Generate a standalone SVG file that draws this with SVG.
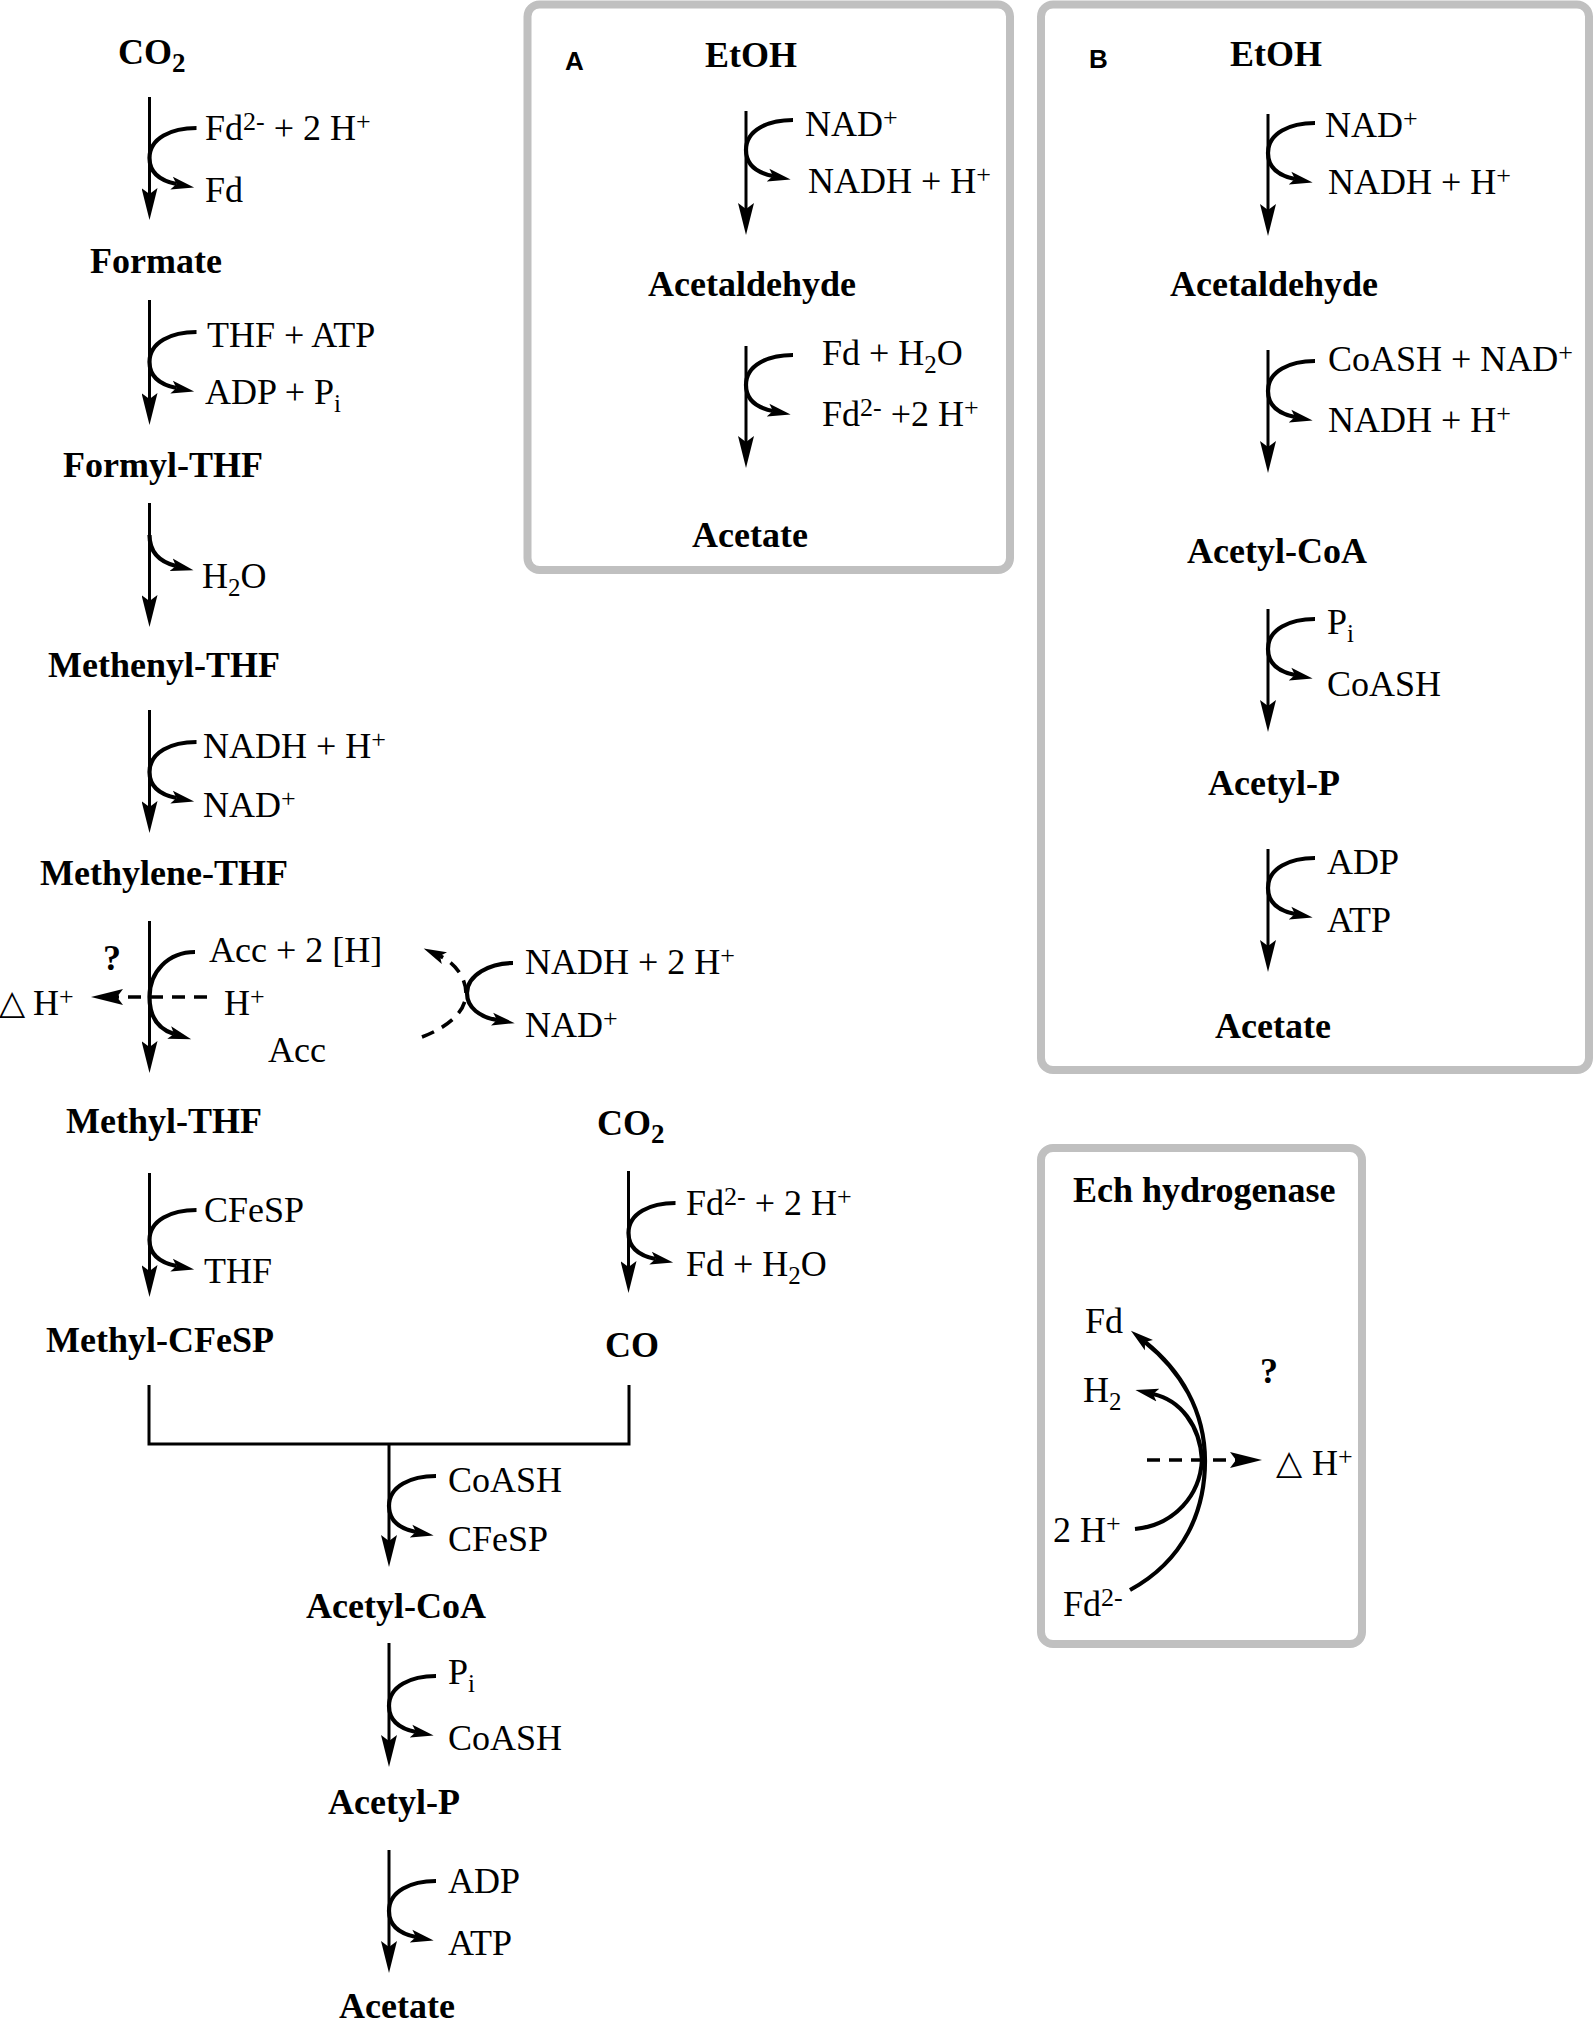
<svg xmlns="http://www.w3.org/2000/svg" xmlns:xlink="http://www.w3.org/1999/xlink" width="1595" height="2031" viewBox="0 0 1595 2031">
<style>
text{font-family:"Liberation Serif","Times New Roman",serif;fill:#000}
.b{font-weight:bold;font-size:36px}
.r{font-size:36px}
.sup{font-size:26px;baseline-shift:10px}
.sub{font-size:25px;baseline-shift:-8px}
.bsub{font-size:27px;baseline-shift:-8px}
.lbl{font-family:"Liberation Sans",Arial,sans-serif;font-weight:bold;font-size:26px}
.tri{font-family:"DejaVu Sans",sans-serif;font-size:34px}
.ln{fill:none;stroke:#000;stroke-width:3}
.main{fill:none;stroke:#000;stroke-width:3;marker-end:url(#ah)}
.cv{fill:none;stroke:#000;stroke-width:4.2;marker-end:url(#ahc)}
.dash{fill:none;stroke:#000;stroke-width:3.6;stroke-dasharray:13 9}
.box{fill:#fff;stroke:#c0c0c0;stroke-width:8}
</style>
<defs>
<marker id="ah" markerUnits="userSpaceOnUse" markerWidth="32" markerHeight="16" viewBox="0 0 32 16" refX="24" refY="8" orient="auto"><path d="M0,0 L32,8 L0,16 L6,8 z" fill="#000"/></marker>
<marker id="ahc" markerUnits="userSpaceOnUse" markerWidth="24" markerHeight="14" viewBox="0 0 24 14" refX="5" refY="7" orient="auto"><path d="M0,0.5 L23,7 L0,13.5 L5,7 z" fill="#000"/></marker>
<path id="crv" class="cv" d="M47,0 C22,0 0,10 0,30 C0,46 12,53 27,56"/>
</defs>

<g id="boxA"><rect class="box" x="527.5" y="4.5" width="482.5" height="565.5" rx="12"/></g>
<g id="boxB"><rect class="box" x="1041" y="4.5" width="548" height="1065.5" rx="12"/></g>
<g id="boxEch"><rect class="box" x="1041" y="1148" width="321" height="496" rx="12"/></g>

<g id="connectors">
  <path class="main" d="M149.5,97 V212"/>
  <use xlink:href="#crv" href="#crv" x="149.5" y="128"/>
  <path class="main" d="M149.5,300 V417"/>
  <use xlink:href="#crv" href="#crv" x="149.5" y="332"/>
  <path class="main" d="M149.5,503 V619"/>
  <path class="cv" d="M149.5,535 C149.5,552 160,562 176,566"/>
  <path class="main" d="M149.5,710 V825"/>
  <use xlink:href="#crv" href="#crv" x="149.5" y="742"/>
  <path class="main" d="M149.5,921 V1065"/>
  <path class="cv" d="M195,952 C168,952 149.5,972 149.5,997 C149.5,1017 158,1029 174,1034"/>
  <path class="dash" d="M207,997 H99" marker-end="url(#ah)"/>
  <path class="dash" d="M422,1037 C448,1027 466,1012 466,993 C466,978 455,963 440,956" marker-end="url(#ahc)"/>
  <path class="cv" d="M513,963 C490,963 467,975 467,993 C467,1008 480,1017 497,1020"/>
  <path class="main" d="M149.5,1173 V1289"/>
  <use xlink:href="#crv" href="#crv" x="149.5" y="1210"/>
  <path class="main" d="M628.5,1171 V1285"/>
  <use xlink:href="#crv" href="#crv" x="628.5" y="1203"/>
  <path class="ln" d="M149,1385 V1444 H629 V1385"/>
  <path class="main" d="M389,1444 V1559"/>
  <use xlink:href="#crv" href="#crv" x="389" y="1476"/>
  <path class="main" d="M389,1643 V1759"/>
  <use xlink:href="#crv" href="#crv" x="389" y="1676"/>
  <path class="main" d="M389,1850 V1965"/>
  <use xlink:href="#crv" href="#crv" x="389" y="1881"/>
  <path class="main" d="M746,111 V227"/>
  <use xlink:href="#crv" href="#crv" x="746" y="120"/>
  <path class="main" d="M746,346 V460"/>
  <use xlink:href="#crv" href="#crv" x="746" y="355"/>
  <path class="main" d="M1268,114 V228"/>
  <use xlink:href="#crv" href="#crv" x="1268" y="123"/>
  <path class="main" d="M1268,350 V465"/>
  <use xlink:href="#crv" href="#crv" x="1268" y="361"/>
  <path class="main" d="M1268,609 V724"/>
  <use xlink:href="#crv" href="#crv" x="1268" y="619"/>
  <path class="main" d="M1268,849 V964"/>
  <use xlink:href="#crv" href="#crv" x="1268" y="858"/>
  <path class="cv" d="M1130,1590 C1185,1560 1205,1510 1205,1461 C1205,1410 1180,1370 1145,1342"/>
  <path class="cv" d="M1135,1529 C1175,1525 1200,1495 1202,1460 C1200,1425 1180,1400 1153,1394"/>
  <path class="dash" d="M1147,1460 H1254" marker-end="url(#ah)"/>
</g>

<g id="n-co2"><text class="b" x="118" y="64">CO<tspan class="bsub">2</tspan></text></g>
<g id="r1"><text class="r" x="205" y="140">Fd<tspan class="sup">2-</tspan> + 2 H<tspan class="sup">+</tspan></text><text class="r" x="205" y="202">Fd</text></g>
<g id="n-formate"><text class="b" x="90" y="273">Formate</text></g>
<g id="r2"><text class="r" x="207" y="347">THF + ATP</text><text class="r" x="205" y="404">ADP + P<tspan class="sub">i</tspan></text></g>
<g id="n-formylthf"><text class="b" x="63" y="477">Formyl-THF</text></g>
<g id="r3"><text class="r" x="202" y="588">H<tspan class="sub">2</tspan>O</text></g>
<g id="n-methenylthf"><text class="b" x="48" y="677">Methenyl-THF</text></g>
<g id="r4"><text class="r" x="203" y="758">NADH + H<tspan class="sup">+</tspan></text><text class="r" x="203" y="817">NAD<tspan class="sup">+</tspan></text></g>
<g id="n-methylenethf"><text class="b" x="40" y="885">Methylene-THF</text></g>
<g id="r5">
  <text class="r" x="209" y="962">Acc + 2 [H]</text>
  <text class="b" x="103" y="970">?</text>
  <text class="tri" x="-1" y="1014">△</text>
  <text class="r" x="33" y="1015">H<tspan class="sup">+</tspan></text>
  <text class="r" x="224" y="1015">H<tspan class="sup">+</tspan></text>
  <text class="r" x="268" y="1062">Acc</text>
  <text class="r" x="525" y="974">NADH + 2 H<tspan class="sup">+</tspan></text>
  <text class="r" x="525" y="1037">NAD<tspan class="sup">+</tspan></text>
</g>
<g id="n-methylthf"><text class="b" x="66" y="1133">Methyl-THF</text></g>
<g id="n-co2b"><text class="b" x="597" y="1135">CO<tspan class="bsub">2</tspan></text></g>
<g id="r6"><text class="r" x="204" y="1222">CFeSP</text><text class="r" x="204" y="1283">THF</text></g>
<g id="r7"><text class="r" x="686" y="1215">Fd<tspan class="sup">2-</tspan> + 2 H<tspan class="sup">+</tspan></text><text class="r" x="686" y="1276">Fd + H<tspan class="sub">2</tspan>O</text></g>
<g id="n-methylcfesp"><text class="b" x="46" y="1352">Methyl-CFeSP</text></g>
<g id="n-co"><text class="b" x="605" y="1357">CO</text></g>
<g id="r8"><text class="r" x="448" y="1492">CoASH</text><text class="r" x="448" y="1551">CFeSP</text></g>
<g id="n-acetylcoa"><text class="b" x="306" y="1618">Acetyl-CoA</text></g>
<g id="r9"><text class="r" x="448" y="1684">P<tspan class="sub">i</tspan></text><text class="r" x="448" y="1750">CoASH</text></g>
<g id="n-acetylp"><text class="b" x="328" y="1814">Acetyl-P</text></g>
<g id="r10"><text class="r" x="448" y="1893">ADP</text><text class="r" x="448" y="1955">ATP</text></g>
<g id="n-acetate"><text class="b" x="339" y="2018">Acetate</text></g>

<g id="A-content">
  <text class="lbl" x="565" y="70">A</text>
  <text class="b" x="705" y="67">EtOH</text>
  <text class="r" x="805" y="136">NAD<tspan class="sup">+</tspan></text>
  <text class="r" x="808" y="193">NADH + H<tspan class="sup">+</tspan></text>
  <text class="b" x="648" y="296">Acetaldehyde</text>
  <text class="r" x="822" y="365">Fd + H<tspan class="sub">2</tspan>O</text>
  <text class="r" x="822" y="426">Fd<tspan class="sup">2-</tspan> +2 H<tspan class="sup">+</tspan></text>
  <text class="b" x="692" y="547">Acetate</text>
</g>
<g id="B-content">
  <text class="lbl" x="1089" y="68">B</text>
  <text class="b" x="1230" y="66">EtOH</text>
  <text class="r" x="1325" y="137">NAD<tspan class="sup">+</tspan></text>
  <text class="r" x="1328" y="194">NADH + H<tspan class="sup">+</tspan></text>
  <text class="b" x="1170" y="296">Acetaldehyde</text>
  <text class="r" x="1328" y="371">CoASH + NAD<tspan class="sup">+</tspan></text>
  <text class="r" x="1328" y="432">NADH + H<tspan class="sup">+</tspan></text>
  <text class="b" x="1187" y="563">Acetyl-CoA</text>
  <text class="r" x="1327" y="634">P<tspan class="sub">i</tspan></text>
  <text class="r" x="1327" y="696">CoASH</text>
  <text class="b" x="1208" y="795">Acetyl-P</text>
  <text class="r" x="1327" y="874">ADP</text>
  <text class="r" x="1327" y="932">ATP</text>
  <text class="b" x="1215" y="1038">Acetate</text>
</g>
<g id="Ech-content">
  <text class="b" x="1073" y="1202">Ech hydrogenase</text>
  <text class="r" x="1085" y="1333">Fd</text>
  <text class="r" x="1083" y="1402">H<tspan class="sub">2</tspan></text>
  <text class="b" x="1260" y="1383">?</text>
  <text class="tri" x="1276" y="1474">△</text>
  <text class="r" x="1312" y="1475">H<tspan class="sup">+</tspan></text>
  <text class="r" x="1053" y="1542">2 H<tspan class="sup">+</tspan></text>
  <text class="r" x="1063" y="1616">Fd<tspan class="sup">2-</tspan></text>
</g>
</svg>
